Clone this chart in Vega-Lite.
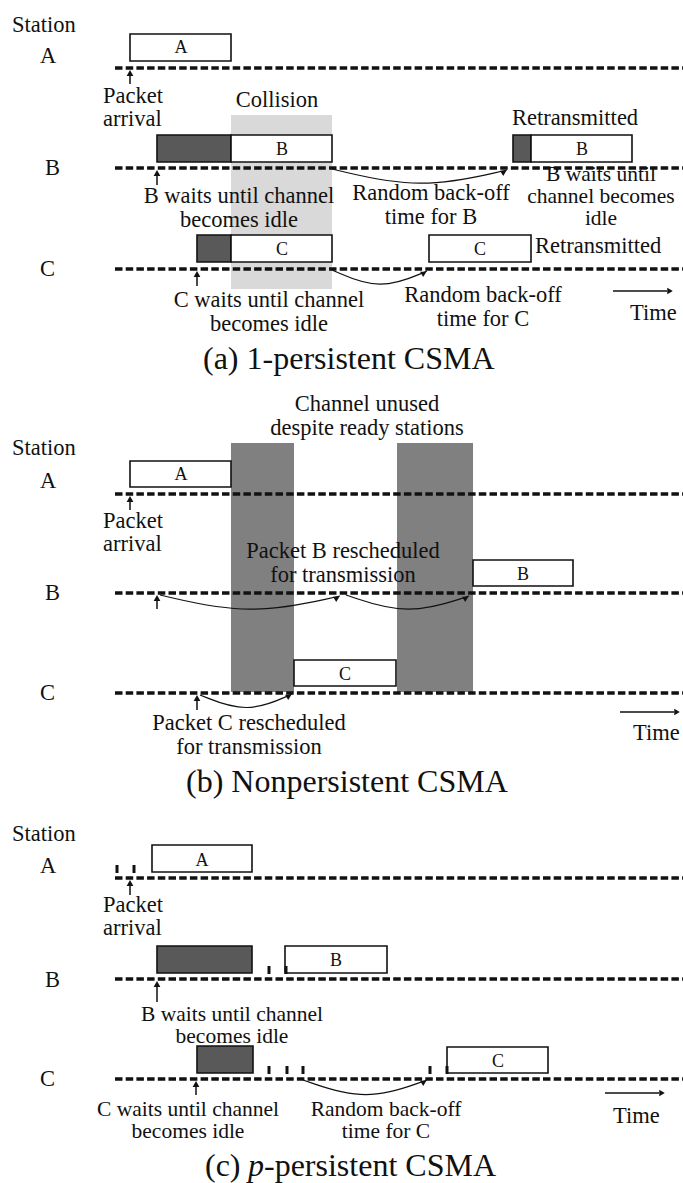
{
  "$schema": "https://vega.github.io/schema/vega-lite/v6.json",
  "width": 683,
  "height": 1183,
  "autosize": {"type": "none"},
  "padding": 0,
  "background": "white",
  "config": {"view": {"stroke": null}},
  "datasets": {
    "bg": [
      {"x": 231, "x2": 332, "y": 115, "y2": 289, "kind": "collision"},
      {"x": 231, "x2": 294, "y": 443, "y2": 692, "kind": "unused"},
      {"x": 397, "x2": 473, "y": 443, "y2": 692, "kind": "unused"}
    ],
    "boxes": [
      {"x": 130, "x2": 231, "y": 34, "y2": 61, "kind": "packet"},
      {"x": 157, "x2": 231, "y": 135, "y2": 162, "kind": "wait"},
      {"x": 231, "x2": 332, "y": 135, "y2": 162, "kind": "packet"},
      {"x": 513, "x2": 531, "y": 135, "y2": 162, "kind": "wait"},
      {"x": 531, "x2": 632, "y": 135, "y2": 162, "kind": "packet"},
      {"x": 197, "x2": 231, "y": 235, "y2": 262, "kind": "wait"},
      {"x": 231, "x2": 332, "y": 235, "y2": 262, "kind": "packet"},
      {"x": 429, "x2": 531, "y": 235, "y2": 262, "kind": "packet"},
      {"x": 130, "x2": 231, "y": 461, "y2": 487, "kind": "packet"},
      {"x": 473, "x2": 573, "y": 560, "y2": 586, "kind": "packet"},
      {"x": 294, "x2": 396, "y": 660, "y2": 686, "kind": "packet"},
      {"x": 152, "x2": 252, "y": 845, "y2": 872, "kind": "packet"},
      {"x": 157, "x2": 252, "y": 946, "y2": 973, "kind": "wait"},
      {"x": 285, "x2": 387, "y": 946, "y2": 973, "kind": "packet"},
      {"x": 197, "x2": 253, "y": 1046, "y2": 1073, "kind": "wait"},
      {"x": 447, "x2": 548, "y": 1047, "y2": 1073, "kind": "packet"}
    ],
    "timelines": [
      {"x": 115, "x2": 683, "y": 68},
      {"x": 115, "x2": 683, "y": 168},
      {"x": 115, "x2": 683, "y": 269},
      {"x": 115, "x2": 683, "y": 494},
      {"x": 115, "x2": 683, "y": 593},
      {"x": 115, "x2": 683, "y": 693},
      {"x": 115, "x2": 683, "y": 878},
      {"x": 115, "x2": 683, "y": 979},
      {"x": 115, "x2": 683, "y": 1079}
    ],
    "ticks": [
      {"x": 117, "y": 865, "y2": 873},
      {"x": 134, "y": 865, "y2": 873},
      {"x": 269, "y": 966, "y2": 974},
      {"x": 286, "y": 966, "y2": 974},
      {"x": 269, "y": 1066, "y2": 1074},
      {"x": 287, "y": 1066, "y2": 1074},
      {"x": 303, "y": 1066, "y2": 1074},
      {"x": 430, "y": 1066, "y2": 1074},
      {"x": 447, "y": 1066, "y2": 1074}
    ],
    "shafts": [
      {"x": 130, "y": 72, "y2": 84},
      {"x": 157, "y": 172, "y2": 185},
      {"x": 197, "y": 273, "y2": 286},
      {"x": 130, "y": 498, "y2": 510},
      {"x": 157, "y": 597, "y2": 609},
      {"x": 197, "y": 697, "y2": 710},
      {"x": 130, "y": 882, "y2": 895},
      {"x": 157, "y": 983, "y2": 1002},
      {"x": 196, "y": 1083, "y2": 1095}
    ],
    "headsUp": [
      {"x": 130, "y": 73}, {"x": 157, "y": 173}, {"x": 197, "y": 274},
      {"x": 130, "y": 499}, {"x": 157, "y": 598}, {"x": 197, "y": 698},
      {"x": 130, "y": 883}, {"x": 157, "y": 984}, {"x": 196, "y": 1084}
    ],
    "timeArrows": [
      {"x": 613, "x2": 667, "y": 291},
      {"x": 620, "x2": 674, "y": 712},
      {"x": 605, "x2": 659, "y": 1093}
    ],
    "headsRight": [
      {"x": 670, "y": 291}, {"x": 677, "y": 712}, {"x": 662, "y": 1093}
    ],
    "arcs": [
      {"id": "aB", "x": 332, "y": 169}, {"id": "aB", "x": 420, "y": 190}, {"id": "aB", "x": 507, "y": 170},
      {"id": "aC", "x": 332, "y": 270}, {"id": "aC", "x": 380, "y": 291}, {"id": "aC", "x": 427, "y": 271},
      {"id": "bB1", "x": 160, "y": 595}, {"id": "bB1", "x": 250, "y": 616}, {"id": "bB1", "x": 340, "y": 596},
      {"id": "bB2", "x": 346, "y": 595}, {"id": "bB2", "x": 408, "y": 616}, {"id": "bB2", "x": 469, "y": 596},
      {"id": "bC", "x": 200, "y": 695}, {"id": "bC", "x": 247, "y": 714}, {"id": "bC", "x": 292, "y": 694},
      {"id": "cC", "x": 303, "y": 1080}, {"id": "cC", "x": 366, "y": 1102}, {"id": "cC", "x": 427, "y": 1080}
    ],
    "arcHeads": [
      {"x": 504, "y": 172}, {"x": 424, "y": 273}, {"x": 337, "y": 598},
      {"x": 466, "y": 598}, {"x": 289, "y": 696}, {"x": 424, "y": 1082}
    ],
    "labels": [
      {"x": 12, "y": 32, "text": "Station"},
      {"x": 40, "y": 63, "text": "A"},
      {"x": 45, "y": 175, "text": "B"},
      {"x": 40, "y": 276, "text": "C"},
      {"x": 535, "y": 253, "text": "Retransmitted"},
      {"x": 630, "y": 320, "text": "Time"},
      {"x": 12, "y": 455, "text": "Station"},
      {"x": 40, "y": 488, "text": "A"},
      {"x": 45, "y": 600, "text": "B"},
      {"x": 40, "y": 700, "text": "C"},
      {"x": 633, "y": 740, "text": "Time"},
      {"x": 12, "y": 841, "text": "Station"},
      {"x": 40, "y": 873, "text": "A"},
      {"x": 45, "y": 987, "text": "B"},
      {"x": 40, "y": 1086, "text": "C"},
      {"x": 613, "y": 1123, "text": "Time"}
    ],
    "leftBlocks": [
      {"x": 103, "y": 103, "text": "Packet\narrival"},
      {"x": 103, "y": 528, "text": "Packet\narrival"},
      {"x": 103, "y": 912, "text": "Packet\narrival"}
    ],
    "notes": [
      {"x": 277, "y": 107, "text": "Collision"},
      {"x": 575, "y": 125, "text": "Retransmitted"}
    ],
    "blocksWide": [
      {"x": 239, "y": 203, "text": "B waits until channel\nbecomes idle"},
      {"x": 431, "y": 200, "text": "Random back-off\ntime for B"},
      {"x": 269, "y": 307, "text": "C waits until channel\nbecomes idle"},
      {"x": 483, "y": 302, "text": "Random back-off\ntime for C"},
      {"x": 367, "y": 411, "text": "Channel unused\ndespite ready stations"},
      {"x": 343, "y": 558, "text": "Packet B rescheduled\nfor transmission"},
      {"x": 249, "y": 730, "text": "Packet C rescheduled\nfor transmission"}
    ],
    "blocksTight": [
      {"x": 601, "y": 181, "text": "B waits until\nchannel becomes\nidle"},
      {"x": 232, "y": 1021, "text": "B waits until channel\nbecomes idle"},
      {"x": 188, "y": 1116, "text": "C waits until channel\nbecomes idle"},
      {"x": 386, "y": 1116, "text": "Random back-off\ntime for C"}
    ],
    "boxLetters": [
      {"x": 181, "y": 53, "text": "A"},
      {"x": 282, "y": 155, "text": "B"},
      {"x": 582, "y": 155, "text": "B"},
      {"x": 282, "y": 255, "text": "C"},
      {"x": 480, "y": 255, "text": "C"},
      {"x": 181, "y": 480, "text": "A"},
      {"x": 523, "y": 580, "text": "B"},
      {"x": 345, "y": 680, "text": "C"},
      {"x": 202, "y": 866, "text": "A"},
      {"x": 336, "y": 966, "text": "B"},
      {"x": 498, "y": 1067, "text": "C"}
    ],
    "titles": [
      {"x": 203, "y": 369, "text": "(a) 1-persistent CSMA"},
      {"x": 186, "y": 792, "text": "(b) Nonpersistent CSMA"},
      {"x": 205, "y": 1176, "text": "(c)"},
      {"x": 264, "y": 1176, "text": "-persistent CSMA"}
    ],
    "titleItalic": [
      {"x": 248, "y": 1176, "text": "p"}
    ]
  },
  "encoding": {
    "x": {"field": "x", "type": "quantitative", "axis": null, "scale": {"domain": [0, 683], "nice": false, "zero": false}},
    "y": {"field": "y", "type": "quantitative", "axis": null, "scale": {"domain": [0, 1183], "nice": false, "zero": false, "reverse": true}}
  },
  "layer": [
    {
      "data": {"name": "bg"},
      "mark": {"type": "rect"},
      "encoding": {
        "x2": {"field": "x2"},
        "y2": {"field": "y2"},
        "color": {"field": "kind", "type": "nominal", "legend": null, "scale": {"domain": ["packet", "wait", "collision", "unused"], "range": ["#ffffff", "#595959", "#d9d9d9", "#808080"]}}
      }
    },
    {
      "data": {"name": "timelines"},
      "mark": {"type": "rule", "stroke": "#111111", "strokeWidth": 3.5, "strokeDash": [7.5, 3.2]},
      "encoding": {"x2": {"field": "x2"}}
    },
    {
      "data": {"name": "boxes"},
      "mark": {"type": "rect", "stroke": "#111111", "strokeWidth": 1.6},
      "encoding": {
        "x2": {"field": "x2"},
        "y2": {"field": "y2"},
        "color": {"field": "kind", "type": "nominal", "legend": null, "scale": {"domain": ["packet", "wait", "collision", "unused"], "range": ["#ffffff", "#595959", "#d9d9d9", "#808080"]}}
      }
    },
    {
      "data": {"name": "ticks"},
      "mark": {"type": "rule", "stroke": "#111111", "strokeWidth": 3},
      "encoding": {"y2": {"field": "y2"}}
    },
    {
      "data": {"name": "shafts"},
      "mark": {"type": "rule", "stroke": "#111111", "strokeWidth": 1.5},
      "encoding": {"y2": {"field": "y2"}}
    },
    {
      "data": {"name": "timeArrows"},
      "mark": {"type": "rule", "stroke": "#111111", "strokeWidth": 1.3},
      "encoding": {"x2": {"field": "x2"}}
    },
    {
      "data": {"name": "arcs"},
      "mark": {"type": "line", "stroke": "#111111", "strokeWidth": 1.2, "interpolate": "basis"},
      "encoding": {"detail": {"field": "id", "type": "nominal"}}
    },
    {
      "data": {"name": "headsUp"},
      "mark": {"type": "point", "shape": "triangle-up", "filled": true, "fill": "#111111", "size": 45, "strokeWidth": 0, "opacity": 1}
    },
    {
      "data": {"name": "headsRight"},
      "mark": {"type": "point", "shape": "triangle-right", "filled": true, "fill": "#111111", "size": 40, "strokeWidth": 0, "opacity": 1}
    },
    {
      "data": {"name": "arcHeads"},
      "mark": {"type": "point", "shape": "triangle-right", "filled": true, "fill": "#111111", "size": 40, "strokeWidth": 0, "opacity": 1, "angle": -30}
    },
    {
      "data": {"name": "labels"},
      "mark": {"type": "text", "font": "Liberation Serif", "fontSize": 22.5, "align": "left", "baseline": "alphabetic", "fill": "#111111"},
      "encoding": {"text": {"field": "text"}}
    },
    {
      "data": {"name": "leftBlocks"},
      "mark": {"type": "text", "font": "Liberation Serif", "fontSize": 22.5, "lineHeight": 23, "lineBreak": "\n", "align": "left", "baseline": "alphabetic", "fill": "#111111"},
      "encoding": {"text": {"field": "text"}}
    },
    {
      "data": {"name": "notes"},
      "mark": {"type": "text", "font": "Liberation Serif", "fontSize": 22.5, "align": "center", "baseline": "alphabetic", "fill": "#111111"},
      "encoding": {"text": {"field": "text"}}
    },
    {
      "data": {"name": "blocksWide"},
      "mark": {"type": "text", "font": "Liberation Serif", "fontSize": 22.5, "lineHeight": 23.5, "lineBreak": "\n", "align": "center", "baseline": "alphabetic", "fill": "#111111"},
      "encoding": {"text": {"field": "text"}}
    },
    {
      "data": {"name": "blocksTight"},
      "mark": {"type": "text", "font": "Liberation Serif", "fontSize": 21.5, "lineHeight": 22, "lineBreak": "\n", "align": "center", "baseline": "alphabetic", "fill": "#111111"},
      "encoding": {"text": {"field": "text"}}
    },
    {
      "data": {"name": "boxLetters"},
      "mark": {"type": "text", "font": "Liberation Serif", "fontSize": 18, "align": "center", "baseline": "alphabetic", "fill": "#111111"},
      "encoding": {"text": {"field": "text"}}
    },
    {
      "data": {"name": "titles"},
      "mark": {"type": "text", "font": "Liberation Serif", "fontSize": 32, "align": "left", "baseline": "alphabetic", "fill": "#111111"},
      "encoding": {"text": {"field": "text"}}
    },
    {
      "data": {"name": "titleItalic"},
      "mark": {"type": "text", "font": "Liberation Serif", "fontSize": 32, "fontStyle": "italic", "align": "left", "baseline": "alphabetic", "fill": "#111111"},
      "encoding": {"text": {"field": "text"}}
    }
  ]
}
